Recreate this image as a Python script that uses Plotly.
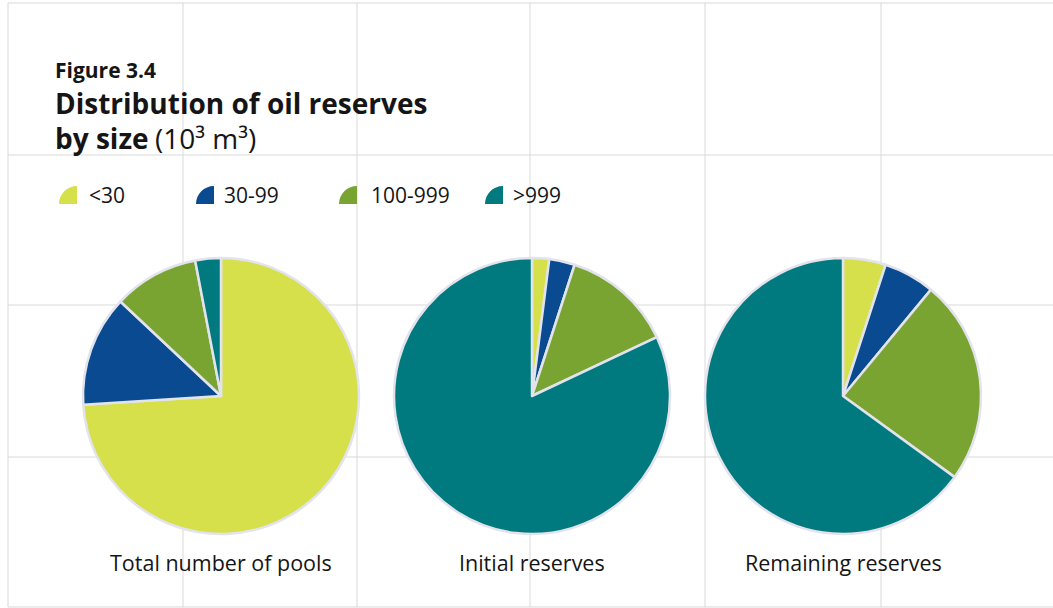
import plotly.graph_objects as go

# Size classes (10^3 m^3) and their colours
categories = ["<30", "30-99", "100-999", ">999"]
colors = ["#d5e04b", "#0a4a90", "#7aa431", "#007a7e"]

# Share of each size class (%) for the three panels
panel_titles = ["Total number of pools", "Initial reserves", "Remaining reserves"]
pools_share = [74, 13, 10, 3]
initial_share = [2, 3, 13, 82]
remaining_share = [5, 6, 24, 65]
panel_values = [pools_share, initial_share, remaining_share]

W, H = 1053, 608
FONT = "Open Sans"
TEXT = "#151515"
GRID = "#d9d9d9"


def px(x):
    return x / W


def py(y):
    return 1 - y / H


def text_at(x, y, text, size, anchor="left"):
    return dict(x=px(x), y=py(y), xref="paper", yref="paper", text=text,
                showarrow=False, xanchor=anchor, yanchor="middle",
                font=dict(family=FONT, size=size, color=TEXT))


fig = go.Figure()

# Pie geometry in pixels
centers_x = [221, 532, 843]
center_y = 396
radius = 138

for cx, vals, name in zip(centers_x, panel_values, panel_titles):
    fig.add_trace(go.Pie(
        labels=categories,
        values=vals,
        name=name,
        sort=False,
        direction="clockwise",
        rotation=0,
        textinfo="none",
        hoverinfo="label+percent",
        showlegend=False,
        marker=dict(colors=colors, line=dict(color="#e2e3ec", width=2.5)),
        domain=dict(x=[px(cx - radius), px(cx + radius)],
                    y=[py(center_y + radius), py(center_y - radius)]),
    ))

shapes = []
# Background grid
for gx in [8, 183, 357, 530, 705, 881]:
    shapes.append(dict(type="line", xref="paper", yref="paper",
                       x0=px(gx), x1=px(gx), y0=py(3), y1=py(607),
                       line=dict(color=GRID, width=1), layer="below"))
for gy in [3, 155, 305, 457, 607]:
    shapes.append(dict(type="line", xref="paper", yref="paper",
                       x0=px(8), x1=1, y0=py(gy), y1=py(gy),
                       line=dict(color=GRID, width=1), layer="below"))

# Legend: quarter-wedge icons with labels
icon_right = [77, 214, 357, 503]
label_left = [87, 222, 369, 511]
legend_y = 195
r = 18
k = 0.5523 * r
wedge = f"M 0,0 L 0,{r} C {-k},{r} {-r},{k} {-r},0 Z"
annotations = []
for xr, xl, lab, col in zip(icon_right, label_left, categories, colors):
    shapes.append(dict(type="path", xref="paper", yref="paper",
                       xsizemode="pixel", ysizemode="pixel",
                       xanchor=px(xr), yanchor=py(legend_y + 9),
                       path=wedge, fillcolor=col, line=dict(width=0)))
    annotations.append(text_at(xl, legend_y, lab, 21))

# Titles
annotations += [
    text_at(53, 70, "<b>Figure 3.4</b>", 21),
    text_at(53, 103, "<b>Distribution of oil reserves</b>", 28),
    text_at(53, 138, "<b>by size</b>", 28),
    text_at(153, 138, "(10³ m³)", 28),
]

# Panel captions under each pie
for cx, name in zip(centers_x, panel_titles):
    annotations.append(text_at(cx, 562, name, 21.5, anchor="center"))

fig.update_layout(
    width=W, height=H,
    margin=dict(l=0, r=0, t=0, b=0),
    paper_bgcolor="white",
    plot_bgcolor="white",
    shapes=shapes,
    annotations=annotations,
)

fig.write_html("out.html")
